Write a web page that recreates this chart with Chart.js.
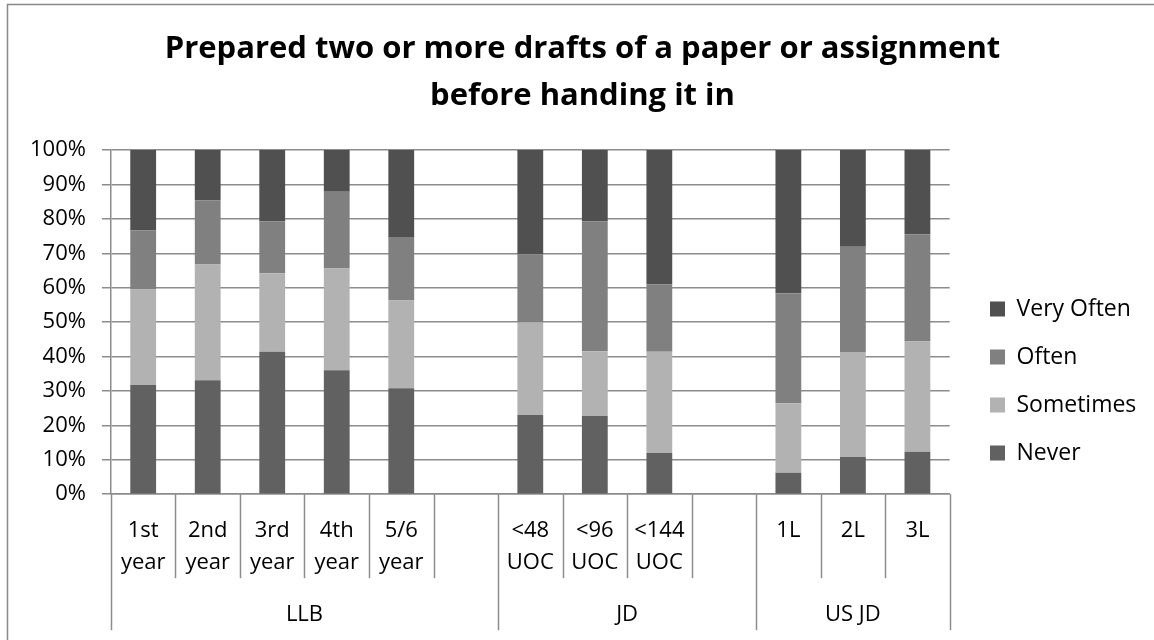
<!DOCTYPE html>
<html>
<head>
<meta charset="utf-8">
<script src="https://cdn.jsdelivr.net/npm/chart.js@4/dist/chart.umd.min.js"></script>
<style>
  html, body { margin: 0; padding: 0; background: #fff; }
  #wrap { width: 1154px; height: 640px; position: relative; }
</style>
</head>
<body>
<div id="wrap"><canvas id="myChart" width="1154" height="640"></canvas></div>
<script>
// categories (blank slots separate the groups)
var labels = [ ["1st","year"], ["2nd","year"], ["3rd","year"], ["4th","year"], ["5/6","year"], "",
               ["<48","UOC"], ["<96","UOC"], ["<144","UOC"], "",
               "1L", "2L", "3L" ];
var groups = [ "LLB", "JD", "US JD" ];
var groupStart = [ 0, 6, 10 ];
var groupEnd   = [ 6, 10, 13 ];

// percentages
var never     = [ 31.7, 33.1, 41.4, 36.0, 30.8, null, 23.0, 22.7, 12.0, null,  6.2, 10.8, 12.3 ];
var sometimes = [ 27.8, 33.6, 22.8, 29.6, 25.5, null, 26.9, 18.8, 29.4, null, 20.2, 30.5, 32.1 ];
var often     = [ 17.1, 18.6, 15.0, 22.3, 18.4, null, 19.8, 37.7, 19.5, null, 32.0, 30.6, 31.1 ];
var veryOften = [ 23.4, 14.7, 20.8, 12.1, 25.3, null, 30.3, 20.8, 39.1, null, 41.6, 28.1, 24.5 ];

var gridColor = "#8c8c8c";
Chart.defaults.font.family = "'Open Sans', sans-serif";
Chart.defaults.color = "#000";

// outer frame (only left and top edges are inside the window)
var framePlugin = {
  id: "frame",
  beforeDraw( chart ){
    let ctx = chart.ctx;
    ctx.save();
    ctx.fillStyle = "#fff";
    ctx.fillRect( 0, 0, chart.width, chart.height );
    ctx.strokeStyle = "#888";
    ctx.lineWidth = 1.5;
    ctx.beginPath();
    ctx.moveTo( 7.5, chart.height + 2 );
    ctx.lineTo( 7.5, 4.5 );
    ctx.lineTo( chart.width + 2, 4.5 );
    ctx.stroke();
    ctx.restore();
  }
};

// put the legend next to the lower half of the plot and centre the title on the frame
var placePlugin = {
  id: "place",
  afterLayout( chart ){
    let lg = chart.legend;
    if( lg ){
      let w = lg.right - lg.left;
      let h = lg.bottom - lg.top;
      lg.left = 965;
      lg.right = lg.left + w;
      lg.top = ( 762 - h ) / 2;
      lg.bottom = lg.top + h;
    }
    let tb = chart.titleBlock;
    if( tb ){
      tb.left += 10;
      tb.right += 10;
    }
  }
};

// category dividers and the group row under the x axis
var groupAxisPlugin = {
  id: "groupAxis",
  afterDraw( chart ){
    let x = chart.scales.x;
    let ctx = chart.ctx;
    let n = labels.length;
    let w = ( x.right - x.left ) / n;
    let y0 = x.top;
    let y1 = y0 + 84;
    let y2 = y0 + 136;
    ctx.save();
    ctx.strokeStyle = gridColor;
    ctx.lineWidth = 1.5;
    for( let k = 0 ; k <= n ; k++ ){
      let px = Math.round( x.left + k * w ) + 0.5;
      let full = groupStart.indexOf( k ) >= 0 || k == n;
      ctx.beginPath();
      ctx.moveTo( px, y0 );
      ctx.lineTo( px, full ? y2 : y1 );
      ctx.stroke();
    }
    ctx.fillStyle = "#000";
    ctx.font = "22px 'Open Sans', sans-serif";
    ctx.textAlign = "center";
    ctx.textBaseline = "middle";
    for( let g = 0 ; g < groups.length ; g++ ){
      let cx = x.left + ( groupStart[g] + groupEnd[g] ) / 2 * w;
      ctx.fillText( groups[g], cx, y0 + 121 );
    }
    ctx.restore();
  }
};

window.addEventListener("load", () => {
  let ctx = document.getElementById("myChart").getContext("2d");
  let data = {
    labels,
    datasets: [
      { label: "Never",      data: never,     backgroundColor: "#616161" },
      { label: "Sometimes",  data: sometimes, backgroundColor: "#b2b2b2" },
      { label: "Often",      data: often,     backgroundColor: "#808080" },
      { label: "Very Often", data: veryOften, backgroundColor: "#505050" }
    ]
  };
  let config = {
    type: "bar",
    data: data,
    options: {
      responsive: false,
      animation: false,
      datasets: {
        bar: { barPercentage: 0.4, categoryPercentage: 1.0, borderWidth: 0 }
      },
      layout: { padding: { left: 14, right: 23, top: 0, bottom: 40 } },
      scales: {
        x: {
          stacked: true,
          grid: { display: false, drawTicks: false },
          border: { display: true, color: gridColor, width: 1.5 },
          ticks: {
            autoSkip: false, maxRotation: 0, padding: 21,
            font: { size: 22, lineHeight: 1.45 }, color: "#000"
          }
        },
        y: {
          stacked: true,
          min: 0, max: 100,
          grid: { color: gridColor, lineWidth: 1.5, tickLength: 9 },
          border: { display: true, color: gridColor, width: 1.5 },
          ticks: {
            stepSize: 10, padding: 16,
            font: { size: 22 }, color: "#000",
            callback: ( v ) => v + "%"
          }
        }
      },
      plugins: {
        title: {
          display: true,
          text: [ "Prepared two or more drafts of a paper or assignment", "before handing it in" ],
          font: { size: 31, weight: "bold", lineHeight: 1.5 },
          color: "#000",
          padding: { top: 26, bottom: 31 }
        },
        legend: {
          position: "right",
          reverse: true,
          labels: {
            boxWidth: 15, boxHeight: 15, padding: 25,
            font: { size: 23 }, color: "#000"
          }
        },
        tooltip: { enabled: false }
      }
    },
    plugins: [ framePlugin, placePlugin, groupAxisPlugin ]
  };
  new Chart( ctx, config );
});
</script>
</body>
</html>
